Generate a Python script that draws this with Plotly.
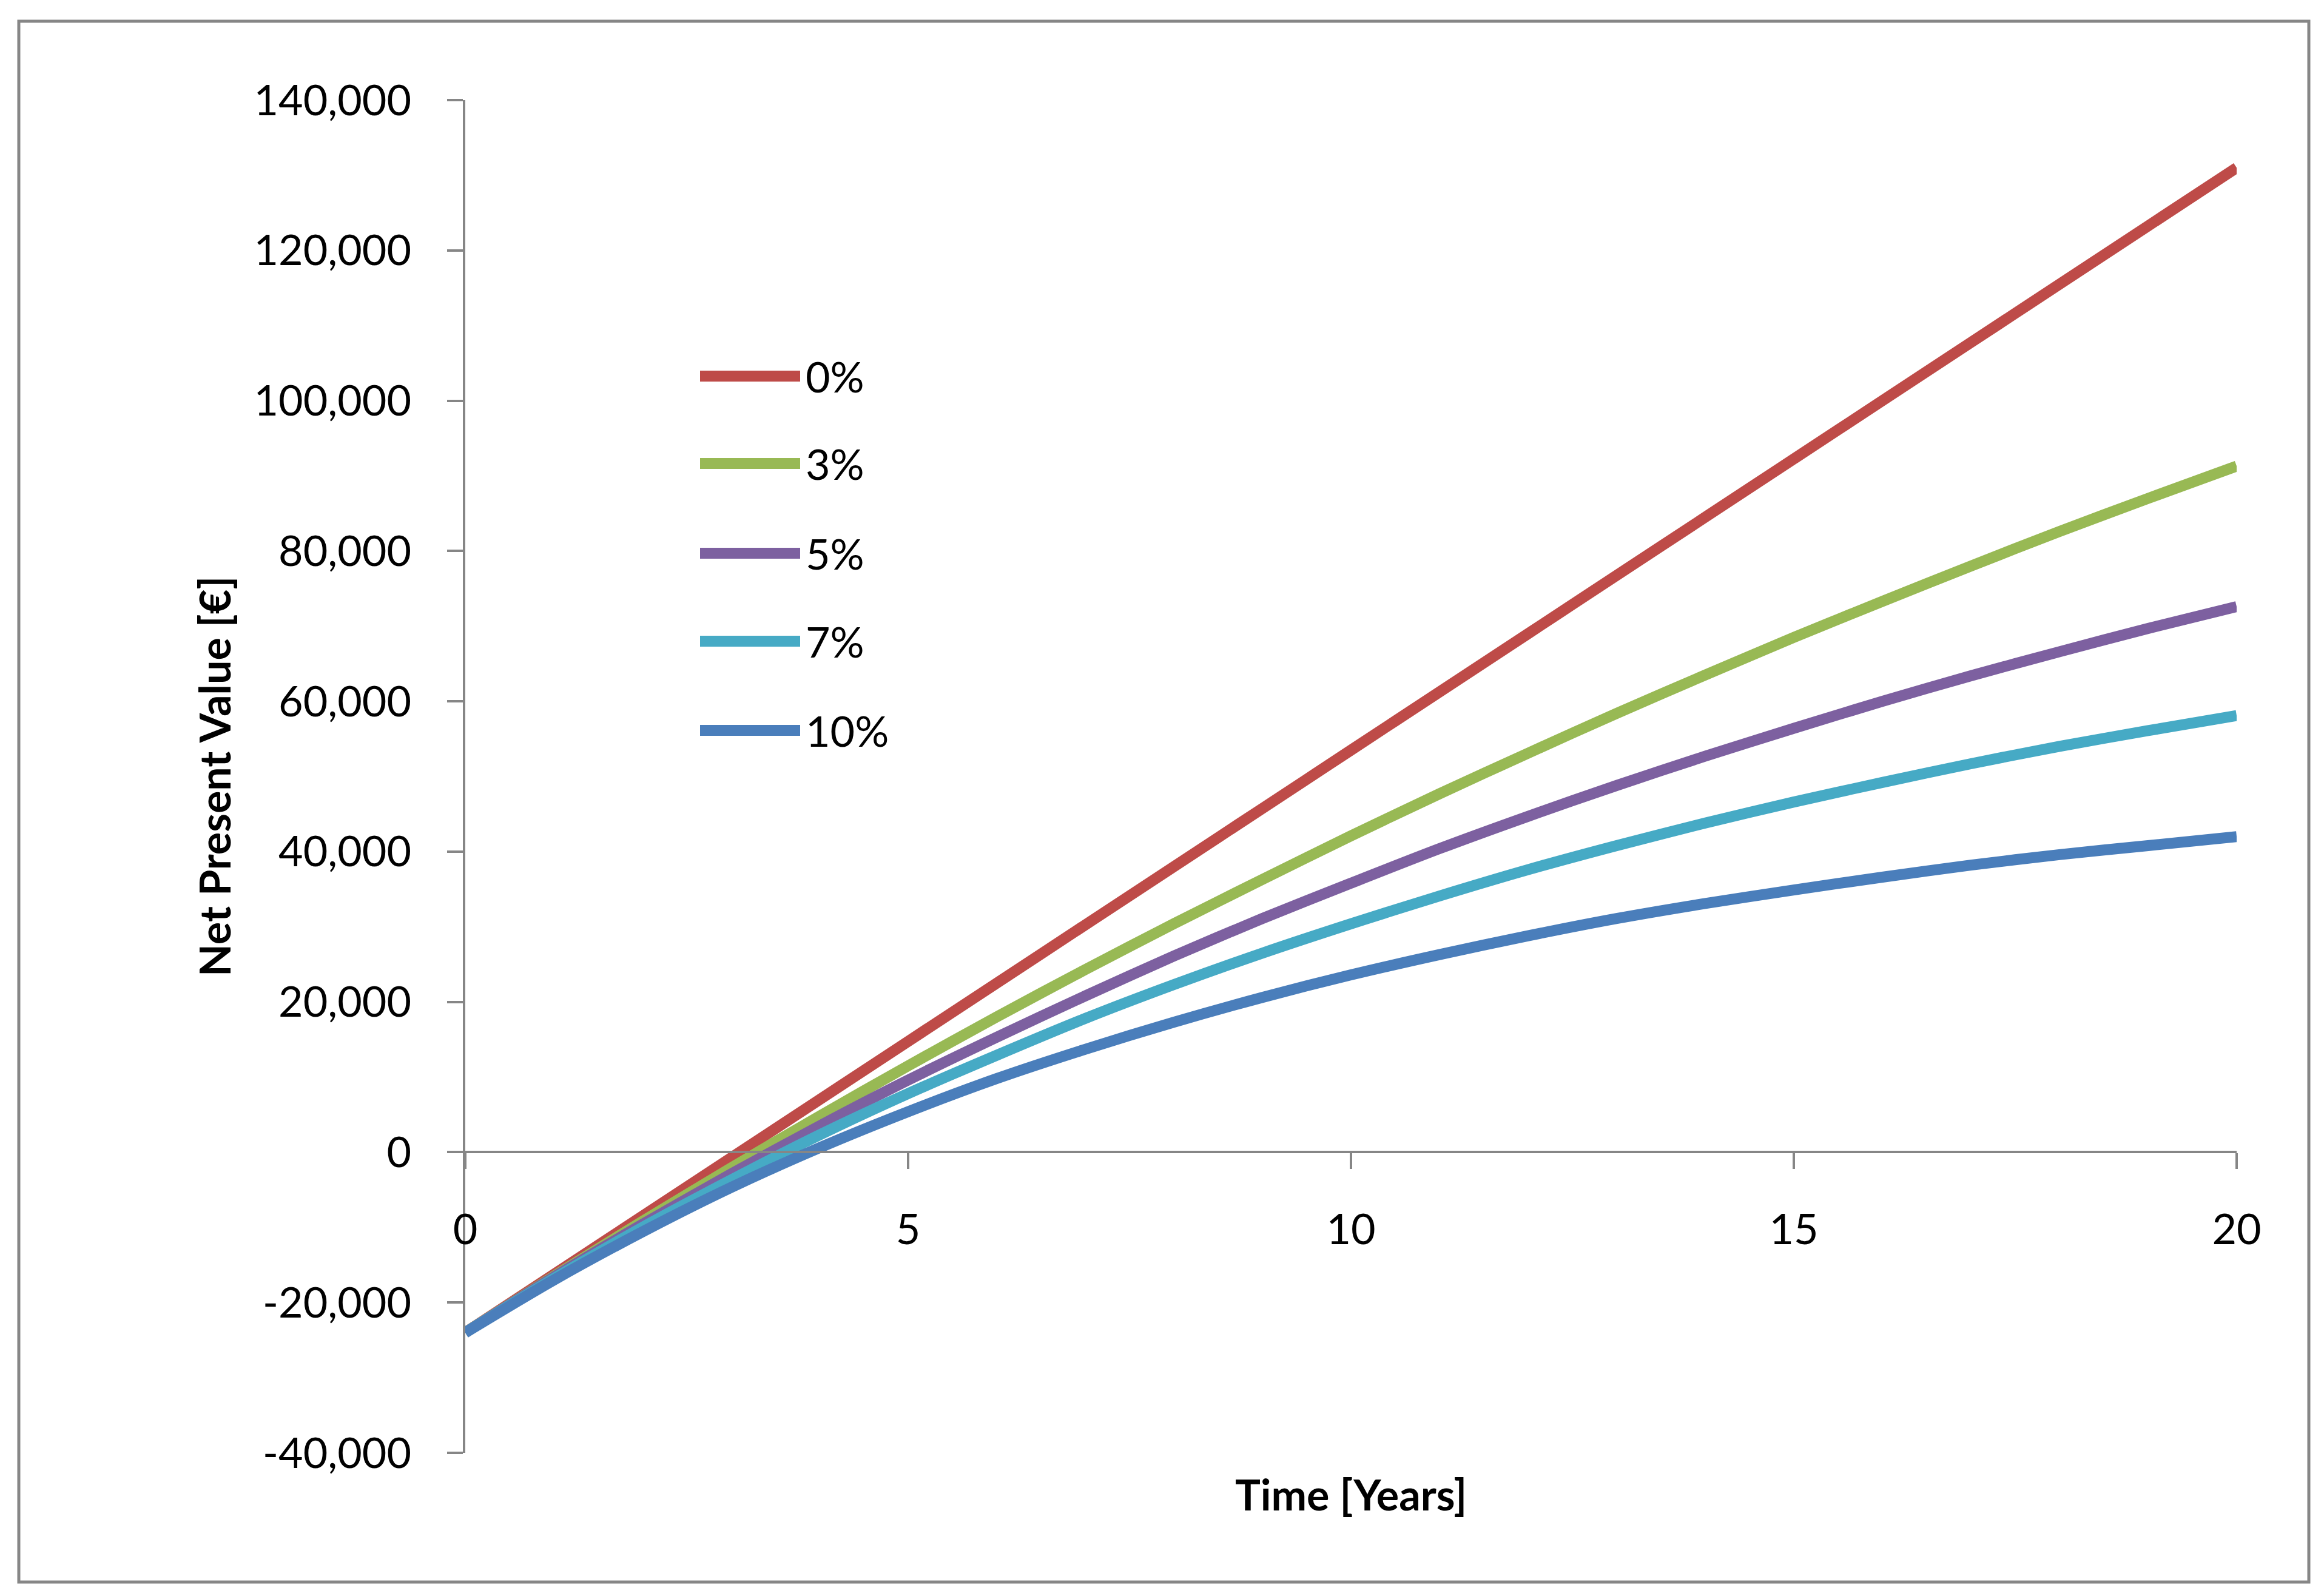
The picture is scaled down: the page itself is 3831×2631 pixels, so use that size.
import plotly.graph_objects as go

# ---------------- data ----------------
years = list(range(0, 21))

npv_0 = [-24000, -16250, -8500, -750, 7000, 14750, 22500, 30250, 38000, 45750, 53500,
         61250, 69000, 76750, 84500, 92250, 100000, 107750, 115500, 123250, 131000]
npv_3 = [-24000, -16500, -9200, -2100, 4800, 11500, 18000, 24300, 30400, 36300, 42100,
         47700, 53100, 58400, 63500, 68500, 73300, 78000, 82600, 87000, 91300]
npv_5 = [-24000, -16600, -9600, -2900, 3500, 9600, 15300, 20800, 26100, 31100, 35800,
         40400, 44700, 48800, 52700, 56400, 60000, 63400, 66600, 69700, 72600]
npv_7 = [-24000, -16800, -10000, -3700, 2300, 7800, 12900, 17800, 22300, 26500, 30400,
         34100, 37600, 40800, 43800, 46600, 49200, 51700, 54000, 56100, 58100]
npv_10 = [-24000, -17000, -10600, -4700, 600, 5400, 9800, 13700, 17300, 20600, 23600,
          26300, 28800, 31100, 33100, 34900, 36600, 38200, 39600, 40800, 42000]

series_values = [npv_0, npv_3, npv_5, npv_7, npv_10]
series_names = ["0%", "3%", "5%", "7%", "10%"]
series_colors = ["#BE4B48", "#98B954", "#7D60A0", "#46AAC5", "#4A7EBB"]

y_tick_vals = [-40000, -20000, 0, 20000, 40000, 60000, 80000, 100000, 120000, 140000]
y_tick_text = ["-40,000", "-20,000", "0", "20,000", "40,000", "60,000", "80,000",
               "100,000", "120,000", "140,000"]
x_tick_vals = [0, 5, 10, 15, 20]
x_tick_text = ["0", "5", "10", "15", "20"]

x_title = "Time [Years]"
y_title = "Net Present Value [€]"

# ---------------- layout constants ----------------
W, H = 3831, 2631
L, R, T, B = 759, 152, 157, 244
AXIS_GRAY = "#868686"
FONT = "Lato"
FS = 70
y_min, y_max = -40000, 140000

fig = go.Figure()
for name, vals, col in zip(series_names, series_values, series_colors):
    fig.add_trace(go.Scatter(
        x=years, y=vals, name=name, mode="lines",
        line=dict(color=col, width=18, shape="spline", smoothing=0.8),
        showlegend=False,
    ))

# x axis crosses at y = 0
x_axis_pos = (0 - y_min) / (y_max - y_min)

fig.update_layout(
    width=W, height=H,
    margin=dict(l=L, r=R, t=T, b=B),
    paper_bgcolor="white", plot_bgcolor="white",
    font=dict(family=FONT, size=FS, color="#000000"),
    xaxis=dict(
        range=[0, 20], tickvals=x_tick_vals, ticktext=x_tick_text,
        showgrid=False, zeroline=False,
        showline=True, linecolor=AXIS_GRAY, linewidth=4,
        ticks="outside", ticklen=26, tickwidth=4, tickcolor=AXIS_GRAY,
        anchor="free", position=x_axis_pos,
        tickfont=dict(family=FONT, size=FS, color="#000000"),
        ticklabelstandoff=40,
    ),
    yaxis=dict(
        range=[y_min, y_max], tickvals=y_tick_vals, ticktext=y_tick_text,
        showgrid=False, zeroline=False,
        showline=True, linecolor=AXIS_GRAY, linewidth=4,
        ticks="outside", ticklen=26, tickwidth=4, tickcolor=AXIS_GRAY,
        tickfont=dict(family=FONT, size=FS, color="#000000"),
        ticklabelstandoff=45,
    ),
)

pw = W - L - R
ph = H - T - B

def px_to_paper_x(px):
    return (px - L) / pw

def px_to_paper_y(py):
    return (H - B - py) / ph

shapes = []
annotations = []

# outer chart border
shapes.append(dict(
    type="rect", xref="paper", yref="paper",
    x0=px_to_paper_x(23), x1=px_to_paper_x(3798),
    y0=px_to_paper_y(2600), y1=px_to_paper_y(27),
    line=dict(color=AXIS_GRAY, width=5), fillcolor="rgba(0,0,0,0)", layer="below",
))

# custom legend
legend_rows_px = [612, 756, 904, 1049, 1196]
for name, col, ry in zip(series_names, series_colors, legend_rows_px):
    yy = px_to_paper_y(ry)
    shapes.append(dict(
        type="line", xref="paper", yref="paper",
        x0=px_to_paper_x(1146), x1=px_to_paper_x(1311), y0=yy, y1=yy,
        line=dict(color=col, width=18),
    ))
    annotations.append(dict(
        text=name, xref="paper", yref="paper",
        x=px_to_paper_x(1318), y=yy, xanchor="left", yanchor="middle",
        showarrow=False, font=dict(family=FONT, size=FS, color="#000000"),
    ))

# axis titles
annotations.append(dict(
    text="<b>" + x_title + "</b>", xref="paper", yref="paper",
    x=px_to_paper_x(2219), y=px_to_paper_y(2455), xanchor="center", yanchor="middle",
    showarrow=False, font=dict(family=FONT, size=FS, color="#000000"),
))
annotations.append(dict(
    text="<b>" + y_title + "</b>", xref="paper", yref="paper",
    x=px_to_paper_x(345), y=0.5, xanchor="center", yanchor="middle",
    textangle=-90, showarrow=False, font=dict(family=FONT, size=FS, color="#000000"),
))

fig.update_layout(shapes=shapes, annotations=annotations)

fig.write_html("out.html")
